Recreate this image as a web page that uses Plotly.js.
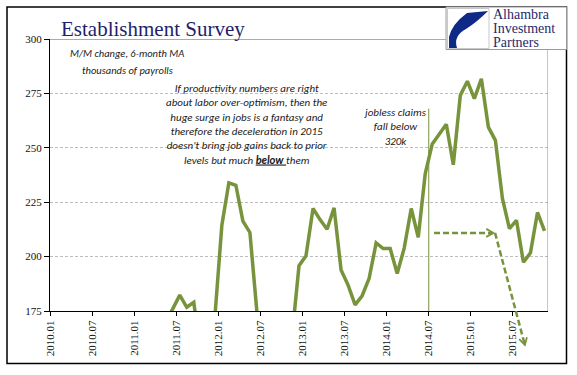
<!DOCTYPE html>
<html><head><meta charset="utf-8">
<script src="https://cdn.plot.ly/plotly-3.0.1.min.js"></script>
<style>html,body{margin:0;padding:0;background:#fff;}#chart{width:577px;height:375px;}</style>
</head><body><div id="chart"></div>
<script>
// Months (category axis)
const months = [
 "2010.01","2010.02","2010.03","2010.04","2010.05","2010.06","2010.07","2010.08","2010.09","2010.10","2010.11","2010.12",
 "2011.01","2011.02","2011.03","2011.04","2011.05","2011.06","2011.07","2011.08","2011.09","2011.10","2011.11","2011.12",
 "2012.01","2012.02","2012.03","2012.04","2012.05","2012.06","2012.07","2012.08","2012.09","2012.10","2012.11","2012.12",
 "2013.01","2013.02","2013.03","2013.04","2013.05","2013.06","2013.07","2013.08","2013.09","2013.10","2013.11","2013.12",
 "2014.01","2014.02","2014.03","2014.04","2014.05","2014.06","2014.07","2014.08","2014.09","2014.10","2014.11","2014.12",
 "2015.01","2015.02","2015.03","2015.04","2015.05","2015.06","2015.07","2015.08","2015.09","2015.10","2015.11"
];
// M/M payroll change, 6-month moving average (thousands)
const payrollMA = [
 -150, -124, -62, 10, 97, 121, 107, 111, 77, 82, 15, 52,
 71, 108, 154, 165, 170, 176, 182.3, 176.7, 179, 155, 166, 172,
 214.4, 233.9, 232.8, 216.3, 211.1, 174.5, 160, 150, 155, 160, 163, 195.8,
 200.4, 222.1, 217, 212.6, 222.4, 193.8, 186.9, 177.8, 182, 190, 206.3, 203.7,
 203.7, 192.2, 203.9, 222.1, 208.9, 238.2, 251.8, 256.5, 260.8, 242.2, 274.1, 280.6,
 272.6, 281.7, 259.5, 253.4, 226.7, 212.9, 216.7, 197.4, 201.7, 220.3, 211.8
];
const tickLabels = ["2010.01","2010.07","2011.01","2011.07","2012.01","2012.07","2013.01","2013.07","2014.01","2014.07","2015.01","2015.07"];
const yTicks = [175, 200, 225, 250, 275, 300];
const markerMonth = "2014.07";      // jobless claims fall below 320k
const markerTop = 268;

const X0 = 0, X1 = months.length, Y0 = 175, Y1 = 300;
const PL = 50, PR = 548, PT = 39, PB = 311;
const px = v => (v - PL) / (PR - PL);
const py = v => (PB - v) / (PB - PT);
const dx = v => (v - X0) / (X1 - X0);
const dy = v => (v - Y0) / (Y1 - Y0);

const xs = months.map((m, i) => i + 0.5);
const tickVals = tickLabels.map(t => months.indexOf(t));
const green = "#77933C";
const ital = "Carlito, Lato, 'Open Sans', sans-serif";
const serif = "'Liberation Serif', 'Times New Roman', serif";

const trace = {
  x: xs, y: payrollMA, type: "scatter", mode: "lines",
  line: {color: green, width: 3.5}, hoverinfo: "skip"
};

// dashed projection arrows (in data units)
const hArrow = {x0: 54.75, x1: 63.2, y: 210.9};
const dArrow = {x0: 63.45, y0: 210.9, x1: 67.7, y1: 159.4};

function chevron(tipX, tipY, fromX, fromY) {
  const ddx = tipX - fromX, ddy = tipY - fromY, L = Math.hypot(ddx, ddy);
  const ux = ddx / L, uy = ddy / L;
  const bx = tipX - 7 * ux, by = tipY - 7 * uy;
  const a = [bx - 4 * uy, by + 4 * ux], b = [bx + 4 * uy, by - 4 * ux];
  return `M ${px(a[0])},${py(a[1])} L ${px(tipX)},${py(tipY)} L ${px(b[0])},${py(b[1])}`;
}
const toPX = x => PL + dx(x) * (PR - PL);
const toPY = y => PB - dy(y) * (PB - PT);

const shapes = [
  {type: "rect", xref: "paper", yref: "paper", x0: px(7), x1: px(566.5), y0: py(7), y1: py(363.5),
   line: {color: "#000", width: 1.5}, layer: "below"},
  {type: "line", xref: "x", yref: "y", x0: X0, x1: X1, y0: Y1, y1: Y1, line: {color: "#595959", width: 1}},
  {type: "line", xref: "x", yref: "y", x0: X1, x1: X1, y0: Y0, y1: Y1, line: {color: "#8c8c8c", width: 1}},
  {type: "line", xref: "x", yref: "y", x0: months.indexOf(markerMonth), x1: months.indexOf(markerMonth),
   y0: Y0, y1: markerTop, line: {color: green, width: 1}},
  {type: "line", xref: "paper", yref: "paper", x0: dx(hArrow.x0), x1: dx(hArrow.x1), y0: dy(hArrow.y), y1: dy(hArrow.y),
   line: {color: green, width: 2.5, dash: "6px,3px"}},
  {type: "path", xref: "paper", yref: "paper",
   path: chevron(toPX(hArrow.x1), toPY(hArrow.y), toPX(hArrow.x0), toPY(hArrow.y)),
   line: {color: green, width: 1.8}},
  {type: "line", xref: "paper", yref: "paper", x0: dx(dArrow.x0), x1: dx(dArrow.x1), y0: dy(dArrow.y0), y1: dy(dArrow.y1),
   line: {color: green, width: 2.5, dash: "6px,3px"}},
  {type: "path", xref: "paper", yref: "paper",
   path: chevron(toPX(dArrow.x1), toPY(dArrow.y1), toPX(dArrow.x0), toPY(dArrow.y0)),
   line: {color: green, width: 1.8}},
  {type: "rect", xref: "paper", yref: "paper", x0: px(446), x1: px(566.5), y0: py(7), y1: py(49.5),
   fillcolor: "#fff", line: {color: "#9a9a9a", width: 1}},
  {type: "rect", xref: "paper", yref: "paper", x0: px(447.5), x1: px(489), y0: py(8.5), y1: py(48.5),
   fillcolor: "#fff", line: {color: "#c8c8c8", width: 1}},
  {type: "path", xref: "paper", yref: "paper",
   path: `M ${px(488)},${py(11)} L ${px(467)},${py(13)} Q ${px(452)},${py(24)} ${px(449)},${py(37)} L ${px(449)},${py(48)} L ${px(457)},${py(48)} Q ${px(453)},${py(36)} ${px(466)},${py(29)} Q ${px(477)},${py(22)} ${px(488)},${py(11)} Z`,
   fillcolor: "#0F2A86", line: {width: 0}}
];

function note(text, xpix, ypix, size, family, color, anchor) {
  return {text, xref: "paper", yref: "paper", x: px(xpix), y: py(ypix), showarrow: false,
    xanchor: anchor || "center", yanchor: "middle", align: anchor === "left" ? "left" : "center",
    borderpad: 0, font: {family, size, color}};
}

const annotations = [
  note("Establishment Survey", 60, 28.7, 21, serif, "#1F1F6B", "left"),
  note("<i>M/M change, 6-month MA</i>", 127, 53.5, 10.5, ital, "#1a1a1a"),
  note("<i>thousands of payrolls</i>", 127, 70.5, 10.5, ital, "#1a1a1a"),
  note("<i>If productivity numbers are right<br>about labor over-optimism, then the<br>huge surge in jobs is a fantasy and<br>therefore the deceleration in 2015<br>doesn't bring job gains back to prior<br>levels but much <b><u>below </u></b>them</i>",
       246.5, 124.5, 11, ital, "#1a1a1a"),
  note("<i>jobless claims<br>fall below<br>320k</i>", 395, 127.2, 11, ital, "#1a1a1a"),
  note("Alhambra", 491.5, 14.3, 14, serif, "#1F2A6B", "left"),
  note("Investment", 491.5, 28.6, 14, serif, "#1F2A6B", "left"),
  note("Partners", 491.5, 42.9, 14, serif, "#1F2A6B", "left")
];

const layout = {
  width: 577, height: 375,
  margin: {l: PL, r: 577 - PR, t: PT, b: 375 - PB, pad: 0},
  paper_bgcolor: "#fff", plot_bgcolor: "#fff",
  showlegend: false,
  xaxis: {
    range: [X0, X1], tickmode: "array", tickvals: tickVals, ticktext: tickLabels,
    tickangle: -90, ticks: "outside", ticklen: 4, tickcolor: "#000", tickwidth: 1,
    showline: true, linecolor: "#000", linewidth: 1, showgrid: false, zeroline: false,
    tickfont: {family: serif, size: 11, color: "#111"}, fixedrange: true
  },
  yaxis: {
    range: [Y0, Y1], tickmode: "array", tickvals: yTicks,
    ticks: "outside", ticklen: 5, tickcolor: "#000", tickwidth: 1,
    showline: true, linecolor: "#000", linewidth: 1,
    showgrid: true, gridcolor: "#BDBDBD", gridwidth: 1, griddash: "3px,2px", zeroline: false,
    tickfont: {family: serif, size: 11, color: "#111"}, fixedrange: true
  },
  shapes, annotations
};

Plotly.newPlot("chart", [trace], layout, {displayModeBar: false, staticPlot: true});
</script></body></html>
